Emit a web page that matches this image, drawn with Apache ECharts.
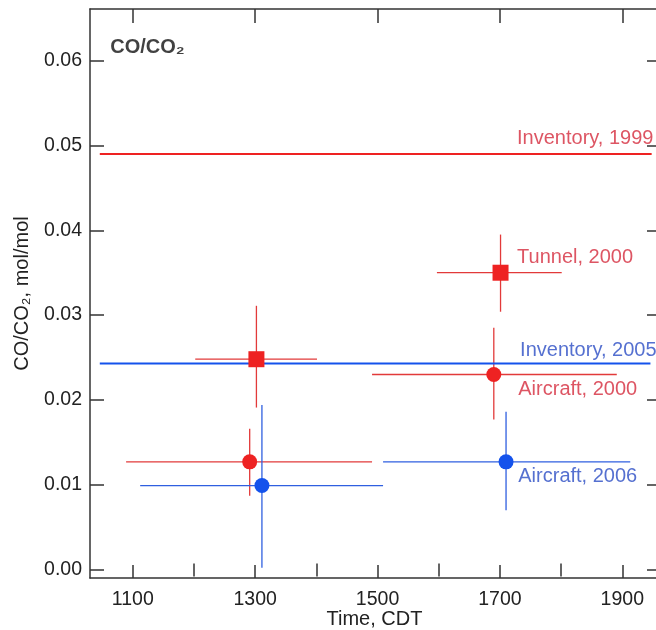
<!DOCTYPE html>
<html>
<head>
<meta charset="utf-8">
<script src="https://cdn.jsdelivr.net/npm/echarts@6.0.0/dist/echarts.min.js"></script>
<style>
  html, body { margin: 0; padding: 0; background: #fff; }
  #chart { width: 656px; height: 630px; }
</style>
</head>
<body>
<div id="chart"></div>
<script>
// rows: [time, ratio, timeLow, timeHigh, ratioLow, ratioHigh]
const tunnel2000 = [
    [1302, 0.0248, 1202, 1401, 0.0191, 0.0311],
    [1701, 0.0350, 1597, 1801, 0.0304, 0.0395]
]
const aircraft2000 = [
    [1291, 0.0127, 1089, 1491, 0.0087, 0.0166],
    [1690, 0.0230, 1491, 1891, 0.0177, 0.0285]
]
const aircraft2006 = [
    [1311, 0.0099, 1112, 1509, 0.0002, 0.0194],
    [1710, 0.0127, 1509, 1913, 0.0070, 0.0186]
]
// inventory lines: [[timeStart, ratio], [timeEnd, ratio]]
const inventory1999 = [[1046, 0.0490], [1948, 0.0490]]
const inventory2005 = [[1046, 0.0243], [1946, 0.0243]]

const xMajorTicks = [1100, 1300, 1500, 1700, 1900]
const xMinorTicks = [1200, 1400, 1600, 1800]
const yTicks = [0, 0.01, 0.02, 0.03, 0.04, 0.05, 0.06]

// text labels: [time, ratio, text]
const redLabels = [
    [1728, 0.0508, 'Inventory, 1999'],
    [1728, 0.0368, 'Tunnel, 2000'],
    [1730, 0.0212, 'Aircraft, 2000']
]
const blueLabels = [
    [1733, 0.0258, 'Inventory, 2005'],
    [1730, 0.0110, 'Aircraft, 2006']
]

const RED = '#ee2222'
const RED_BAR = '#e23a3a'
const RED_TEXT = '#d42a3c'
const BLUE = '#1452ec'
const BLUE_BAR = '#2f5fe0'
const BLUE_TEXT = '#2a4cc4'
const AXIS = '#333'
const FONT = 'Liberation Sans, Arial, sans-serif'

const chart = echarts.init(document.getElementById('chart'), null, { renderer: 'canvas' })

const xBase = {
    type: 'value',
    min: 1030,
    max: 1960,
    splitLine: { show: false },
    axisLine: { show: true, onZero: false, lineStyle: { color: AXIS, width: 1.5 } }
}
const yBase = {
    type: 'value',
    min: -0.001,
    max: 0.0661,
    splitLine: { show: false },
    axisLine: { show: true, onZero: false, lineStyle: { color: AXIS, width: 1.5 } }
}

const errorBars = (rows, color) => ({
    type: 'custom',
    data: rows,
    encode: { x: 0, y: 1 },
    z: 1,
    silent: true,
    renderItem: (params, api) => {
        const l = api.coord([api.value(2), api.value(1)])
        const r = api.coord([api.value(3), api.value(1)])
        const lo = api.coord([api.value(0), api.value(4)])
        const hi = api.coord([api.value(0), api.value(5)])
        const style = { stroke: color, lineWidth: 1.3 }
        return {
            type: 'group',
            children: [
                { type: 'line', shape: { x1: l[0], y1: l[1], x2: r[0], y2: r[1] }, style },
                { type: 'line', shape: { x1: lo[0], y1: lo[1], x2: hi[0], y2: hi[1] }, style }
            ]
        }
    }
})

const markers = (rows, color, symbol, size) => ({
    type: 'scatter',
    data: rows,
    encode: { x: 0, y: 1 },
    symbol,
    symbolSize: size,
    itemStyle: { color, opacity: 1 },
    z: 5
})

const inventoryLine = (pts, color) => ({
    type: 'line',
    data: pts,
    symbol: 'none',
    lineStyle: { color, width: 2 },
    z: 3
})

const textLabels = (rows, color) => ({
    type: 'scatter',
    data: rows.map(r => ({ value: [r[0], r[1]], name: r[2] })),
    symbolSize: 0,
    z: 6,
    label: {
        show: true,
        position: 'right',
        distance: 0,
        formatter: p => p.name,
        color,
        fontSize: 20,
        fontFamily: FONT
    }
})

const option = {
    animation: false,
    backgroundColor: '#fff',
    grid: { left: 90, top: 9, right: -3, bottom: 52, containLabel: false, outerBoundsMode: 'none' },
    xAxis: [
        {
            ...xBase,
            position: 'bottom',
            name: 'Time, CDT',
            nameLocation: 'middle',
            nameGap: 31,
            nameMoveOverlap: false,
            nameTextStyle: { fontSize: 20, color: '#222', fontFamily: FONT },
            axisTick: { inside: true, length: 13, customValues: xMajorTicks, lineStyle: { color: AXIS, width: 1.5 } },
            axisLabel: {
                customValues: xMajorTicks,
                margin: 12,
                fontSize: 19.5,
                color: '#222',
                fontFamily: FONT,
                formatter: v => String(v)
            }
        },
        {
            ...xBase,
            position: 'bottom',
            axisLine: { show: false },
            axisTick: { inside: true, length: 6, customValues: xMinorTicks, lineStyle: { color: AXIS, width: 1.5 } },
            axisLabel: { show: false }
        },
        {
            ...xBase,
            position: 'top',
            axisTick: { inside: true, length: 14, customValues: xMajorTicks, lineStyle: { color: AXIS, width: 1.5 } },
            axisLabel: { show: false }
        },
        {
            ...xBase,
            position: 'top',
            axisLine: { show: false },
            axisTick: { inside: true, length: 7, customValues: xMinorTicks, lineStyle: { color: AXIS, width: 1.5 } },
            axisLabel: { show: false }
        }
    ],
    yAxis: [
        {
            ...yBase,
            position: 'left',
            name: 'CO/CO₂, mol/mol',
            nameLocation: 'middle',
            nameGap: 58,
            nameMoveOverlap: false,
            nameTextStyle: { fontSize: 20, color: '#222', fontFamily: FONT },
            axisTick: { inside: true, length: 14, customValues: yTicks, lineStyle: { color: AXIS, width: 1.5 } },
            axisLabel: {
                customValues: yTicks,
                margin: 8,
                fontSize: 19.5,
                color: '#222',
                fontFamily: FONT,
                formatter: v => v.toFixed(2)
            }
        },
        {
            ...yBase,
            position: 'right',
            axisTick: { inside: true, length: 12, customValues: yTicks, lineStyle: { color: AXIS, width: 1.5 } },
            axisLabel: { show: false }
        }
    ],
    series: [
        errorBars(tunnel2000, RED_BAR),
        errorBars(aircraft2000, RED_BAR),
        errorBars(aircraft2006, BLUE_BAR),
        inventoryLine(inventory1999, RED),
        inventoryLine(inventory2005, BLUE),
        markers(tunnel2000, RED, 'rect', 16),
        markers(aircraft2000, RED, 'circle', 15),
        markers(aircraft2006, BLUE, 'circle', 15),
        textLabels(redLabels, RED_TEXT),
        textLabels(blueLabels, BLUE_TEXT),
        {
            type: 'scatter',
            data: [{ value: [1063, 0.0616], name: 'CO/CO₂' }],
            symbolSize: 0,
            z: 6,
            label: {
                show: true,
                position: 'right',
                distance: 0,
                formatter: p => p.name,
                color: '#111',
                fontSize: 20,
                fontWeight: 'bold',
                fontFamily: FONT
            }
        }
    ]
}

chart.setOption(option)
</script>
</body>
</html>
